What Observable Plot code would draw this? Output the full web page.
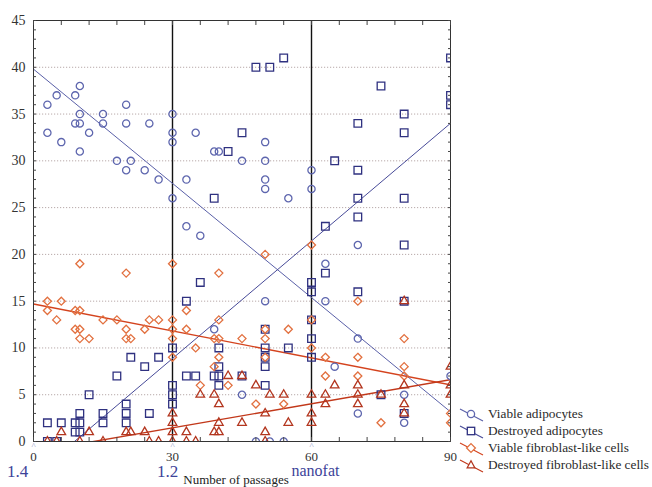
<!DOCTYPE html>
<html><head><meta charset="utf-8">
<script src="https://cdn.jsdelivr.net/npm/d3@7"></script>
<script src="https://cdn.jsdelivr.net/npm/@observablehq/plot@0.6"></script>
<style>
html,body{margin:0;padding:0;background:#fff;}
#wrap{position:relative;width:652px;height:487px;overflow:hidden;}
#legend{position:absolute;left:459px;top:406px;font-family:"Liberation Serif",serif;font-size:13.3px;color:#2a2a2a;}
#legend .row{display:flex;align-items:center;height:16.8px;white-space:nowrap;}
#legend svg{margin-right:3px;flex:none;}
</style></head><body><div id="wrap"></div>
<script>
// ---- data ----
const seriesNames = ["Viable adipocytes","Destroyed adipocytes","Viable fibroblast-like cells","Destroyed fibroblast-like cells"];

const viableAdipocytes = [[3,36],[3,33],[5,37],[6,32],[9,37],[9,34],[10,38],[10,35],[10,34],[10,31],[12,33],[15,35],[15,34],[18,30],[20,36],[20,34],[20,29],[21,30],[24,29],[25,34],[27,28],[30,35],[30,33],[30,32],[30,26],[33,28],[33,23],[35,33],[36,22],[39,31],[39,12],[40,31],[45,30],[45,5],[48,0],[50,32],[50,30],[50,28],[50,27],[50,15],[51,0],[54,0],[55,26],[60,29],[60,27],[63,19],[63,15],[65,8],[70,21],[70,11],[70,3],[80,5],[80,2],[90,7]];

const destroyedAdipocytes = [[3,2],[3,0],[5,0],[6,2],[9,2],[9,1],[10,3],[10,2],[10,1],[12,5],[15,3],[15,2],[18,7],[20,4],[20,3],[20,2],[21,9],[24,8],[25,3],[27,9],[30,10],[30,6],[30,5],[30,4],[33,15],[33,7],[35,7],[36,17],[39,26],[39,7],[40,10],[40,8],[40,7],[40,6],[42,31],[45,33],[45,7],[48,40],[50,12],[50,10],[50,9],[50,8],[50,6],[51,40],[54,41],[55,10],[60,17],[60,16],[60,13],[60,11],[60,9],[63,23],[63,18],[65,30],[70,34],[70,29],[70,26],[70,24],[70,16],[75,38],[75,5],[80,35],[80,33],[80,26],[80,21],[80,15],[80,3],[90,41],[90,37],[90,36]];

const viableFibroblasts = [[3,15],[3,14],[5,13],[6,15],[9,14],[9,12],[10,19],[10,14],[10,12],[10,11],[12,11],[15,13],[18,13],[20,18],[20,12],[20,11],[21,11],[24,12],[25,13],[27,13],[30,19],[30,13],[30,12],[30,11],[30,9],[33,14],[33,12],[35,10],[36,6],[39,11],[39,8],[40,18],[40,13],[40,11],[40,9],[42,6],[45,11],[48,4],[50,20],[50,12],[50,11],[50,9],[54,4],[55,12],[60,21],[60,13],[60,10],[63,9],[63,7],[70,15],[70,9],[70,7],[75,2],[80,11],[80,8],[80,7],[90,3],[90,2]];

const destroyedFibroblasts = [[3,0],[5,0],[6,1],[10,0],[12,1],[15,0],[20,1],[21,1],[24,1],[25,0],[27,0],[30,3],[30,2],[30,1],[30,0],[33,1],[33,0],[35,0],[36,5],[39,5],[39,1],[40,4],[40,2],[40,1],[42,7],[45,7],[45,2],[48,6],[50,3],[50,1],[50,0],[51,5],[54,5],[55,2],[60,5],[60,3],[60,2],[63,5],[63,4],[65,6],[70,6],[70,5],[70,4],[75,5],[80,15],[80,6],[80,4],[80,3],[90,8],[90,6],[90,5]];

// linear fits as drawn in the reference (intercept, slope)
const fitIntercepts = [39.8, -3.7, 14.7, -1.11];
const fitSlopes = [-0.407, 0.419, -0.096, 0.0857];

const xTicks = [0, 30, 60, 90];
const yTicks = [0, 5, 10, 15, 20, 25, 30, 35, 40, 45];
const gridValues = [5, 10, 15, 20, 25, 30, 35, 40];
const markerLines = [30, 60];
const groupLabels = ["1.4", "1.2", "nanofat"];
const xTitle = "Number of passages";

// ---- styling ----
const symbols = ["circle", "square", "diamond2", "triangle"];
const colors = ["#5e66ae", "#2f3180", "#e2703f", "#b3361f"];
const lineColors = ["#5a60a8", "#474a98", "#d4431e", "#c2381a"];
const radii = [3.6, 4.3, 3.6, 3.2];
const font = "'Liberation Serif', 'Times New Roman', serif";

const allSeries = [viableAdipocytes, destroyedAdipocytes, viableFibroblasts, destroyedFibroblasts];
const xDomain = [0, 90];

const dotMarks = allSeries.map((pts, i) =>
  Plot.dot(pts, {x: d => d[0], y: d => d[1], symbol: () => symbols[i], r: radii[i],
    stroke: colors[i], strokeWidth: 1.3, fill: "none", clip: true})
);
const fitMarks = fitIntercepts.map((b, i) =>
  Plot.line(xDomain.map(x => ({x, y: b + fitSlopes[i] * x})), {x: "x", y: "y",
    stroke: lineColors[i], strokeWidth: i < 2 ? 1 : 1.4, clip: true})
);
const blank = () => "";

const chart = Plot.plot({
  width: 652, height: 487,
  marginLeft: 33, marginRight: 202, marginTop: 20, marginBottom: 46,
  style: {fontFamily: font, background: "#fff", color: "#222"},
  x: {domain: xDomain, label: null},
  y: {domain: [0, 45], label: null},
  symbol: {type: "identity"},
  marks: [
    Plot.ruleY(gridValues, {stroke: "#b8a9a9", strokeDasharray: "1.2,1.8", strokeWidth: 1}),
    Plot.ruleX(markerLines, {stroke: "#111", strokeWidth: 1.4}),
    ...fitMarks,
    ...dotMarks,
    Plot.frame({stroke: "#333", strokeWidth: 1}),
    Plot.axisY({ticks: yTicks, tickSize: 0, tickPadding: 8, fontSize: 14, fill: "#333", label: null}),
    Plot.axisY({anchor: "left", ticks: d3.range(0, 46), tickSize: -3, tickFormat: blank, stroke: "#444", label: null}),
    Plot.axisY({anchor: "right", ticks: d3.range(0, 46), tickSize: -3, tickFormat: blank, stroke: "#444", label: null}),
    Plot.axisX({ticks: xTicks, tickSize: 0, tickPadding: 10, fontSize: 13, fill: "#333", label: null}),
    Plot.axisX({anchor: "bottom", ticks: d3.range(0, 91, 6), tickSize: -4, tickFormat: blank, stroke: "#444", label: null}),
    Plot.axisX({anchor: "top", ticks: d3.range(0, 91, 6), tickSize: -4, tickFormat: blank, stroke: "#444", label: null}),
    Plot.text(xTicks.slice(0, 3), {x: d => d, frameAnchor: "bottom", text: () => "^", dy: 5, lineAnchor: "middle", fontSize: 9, fill: "#8c93c4"}),
    Plot.text([groupLabels[0]], {x: () => xTicks[0], frameAnchor: "bottom", dy: 30, dx: -16, lineAnchor: "middle", fontSize: 17, fill: "#3d4399"}),
    Plot.text([groupLabels[1]], {x: () => xTicks[1], frameAnchor: "bottom", dy: 30, dx: -5, lineAnchor: "middle", fontSize: 17, fill: "#3d4399"}),
    Plot.text([groupLabels[2]], {x: () => xTicks[2], frameAnchor: "bottom", dy: 29, dx: 4, lineAnchor: "middle", fontSize: 16, fill: "#3d4399"}),
    Plot.text([xTitle], {frameAnchor: "bottom", dy: 38, dx: -6, lineAnchor: "middle", fontSize: 13, fill: "#222"})
  ]
});

const wrap = document.getElementById("wrap");
wrap.appendChild(chart);

// legend
const legend = document.createElement("div");
legend.id = "legend";
const symPaths = {
  circle: '<circle cx="12" cy="8" r="3.6"/>',
  square: '<rect x="8.3" y="4.3" width="7.4" height="7.4"/>',
  diamond2: '<path d="M12,3.6L16.4,8L12,12.4L7.6,8Z"/>',
  triangle: '<path d="M12,3.8L15.8,10.8L8.2,10.8Z"/>'
};
seriesNames.forEach((name, i) => {
  const row = document.createElement("div");
  row.className = "row";
  row.innerHTML = `<svg width="26" height="16" viewBox="0 0 26 16"><line x1="1" y1="3" x2="24" y2="15" stroke="${lineColors[i]}" stroke-width="1.1"/><g fill="#fff" stroke="${colors[i]}" stroke-width="1.3">${symPaths[symbols[i]]}</g></svg><span>${name}</span>`;
  legend.appendChild(row);
});
wrap.appendChild(legend);
</script>
</body></html>
